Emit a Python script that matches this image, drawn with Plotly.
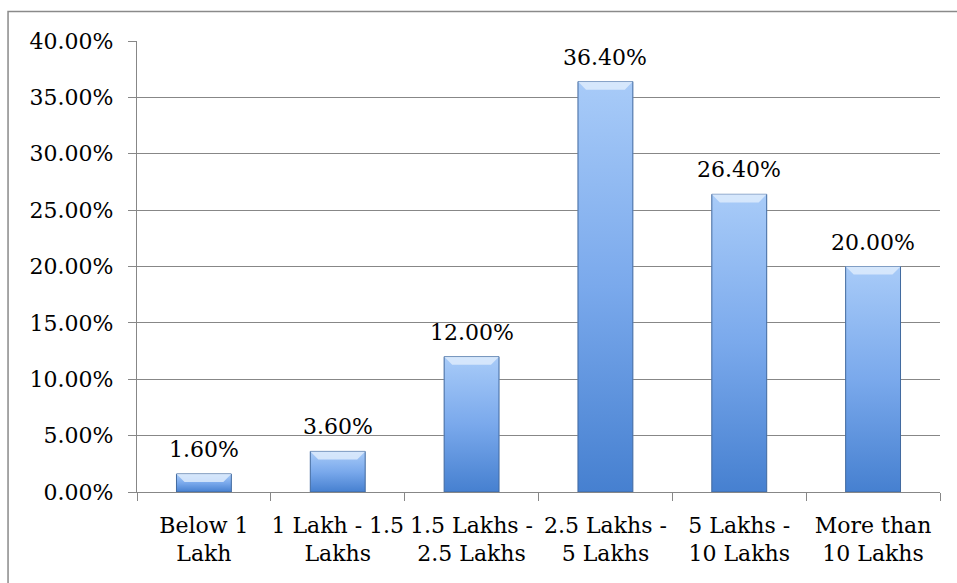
import plotly.graph_objects as go

# Annual income bands and share of respondents (%)
categories = ["Below 1<br>Lakh", "1 Lakh - 1.5<br>Lakhs", "1.5 Lakhs -<br>2.5 Lakhs",
              "2.5 Lakhs -<br>5 Lakhs", "5 Lakhs -<br>10 Lakhs", "More than<br>10 Lakhs"]
shares = [1.6, 3.6, 12.0, 36.4, 26.4, 20.0]
y_ticks = [0, 5, 10, 15, 20, 25, 30, 35, 40]
y_tick_labels = [f"{v:.2f}%" for v in y_ticks]

FONT = "DejaVu Serif"
FSIZE = 22
GRID = "#878787"
HALF_W = 0.205      # half bar width in category units
BEVEL = 0.72        # bevel depth on the bar tops, in % units
BEVEL_INSET = 0.06  # horizontal inset of the bevel's lower edge

fig = go.Figure()

# Category axis carrier: transparent bars hold the categories
fig.add_trace(go.Bar(
    x=categories, y=shares, width=2 * HALF_W,
    marker=dict(color="rgba(0,0,0,0)"),
    hoverinfo="skip", showlegend=False,
))

# Gradient-filled bars with a light bevel along the top edge
for i, v in enumerate(shares):
    x0, x1 = i - HALF_W, i + HALF_W
    fig.add_trace(go.Scatter(
        x=[x0, x1, x1, x0, x0], y=[0, 0, v, v, 0],
        xaxis="x2", yaxis="y", mode="lines", fill="toself",
        fillgradient=dict(type="vertical",
                          colorscale=[[0, "#4680d0"], [0.5, "#7aa9ec"], [1, "#a8cbf8"]]),
        line=dict(color="#41699f", width=1),
        hoverinfo="skip", showlegend=False,
    ))
    b = min(BEVEL, v * 0.45)
    fig.add_trace(go.Scatter(
        x=[x0, x1, x1 - BEVEL_INSET, x0 + BEVEL_INSET, x0], y=[v, v, v - b, v - b, v],
        xaxis="x2", yaxis="y", mode="lines", fill="toself",
        fillcolor="rgba(225,238,253,0.8)", line=dict(width=0),
        hoverinfo="skip", showlegend=False,
    ))
    fig.add_annotation(
        x=i, y=v, xref="x2", yref="y", text=f"{v:.2f}%", showarrow=False,
        yanchor="bottom", yshift=10, font=dict(family=FONT, size=FSIZE, color="#000000"),
    )

fig.update_layout(
    width=957, height=583,
    margin=dict(l=137, r=17, t=41, b=91, autoexpand=False),
    paper_bgcolor="white", plot_bgcolor="white",
    font=dict(family=FONT, size=FSIZE, color="#000000"),
    xaxis=dict(
        type="category", range=[-0.5, 5.5], tickson="boundaries",
        ticks="outside", ticklen=8, tickcolor=GRID, tickwidth=1.3,
        ticklabelstandoff=13, tickangle=0, automargin=False,
        showline=True, linecolor=GRID, linewidth=1.3,
        showgrid=False, tickfont=dict(family=FONT, size=FSIZE, color="#000000"),
        fixedrange=True,
    ),
    xaxis2=dict(
        overlaying="x", range=[-0.5, 5.5], visible=False, fixedrange=True,
    ),
    yaxis=dict(
        range=[0, 40], tickvals=y_ticks, ticktext=y_tick_labels,
        ticks="outside", ticklen=8, tickcolor=GRID, tickwidth=1.3,
        ticklabelstandoff=10, automargin=False,
        showline=True, linecolor=GRID, linewidth=1.3,
        showgrid=True, gridcolor=GRID, gridwidth=1.3,
        zeroline=False, tickfont=dict(family=FONT, size=FSIZE, color="#000000"),
        fixedrange=True,
    ),
    shapes=[dict(
        type="rect", xref="paper", yref="paper",
        x0=-0.1606, x1=1.2, y0=-0.4, y1=1.0655,
        line=dict(color="#8a8a8a", width=1.5), fillcolor="rgba(0,0,0,0)", layer="below",
    )],
)

fig.write_html("out.html")
